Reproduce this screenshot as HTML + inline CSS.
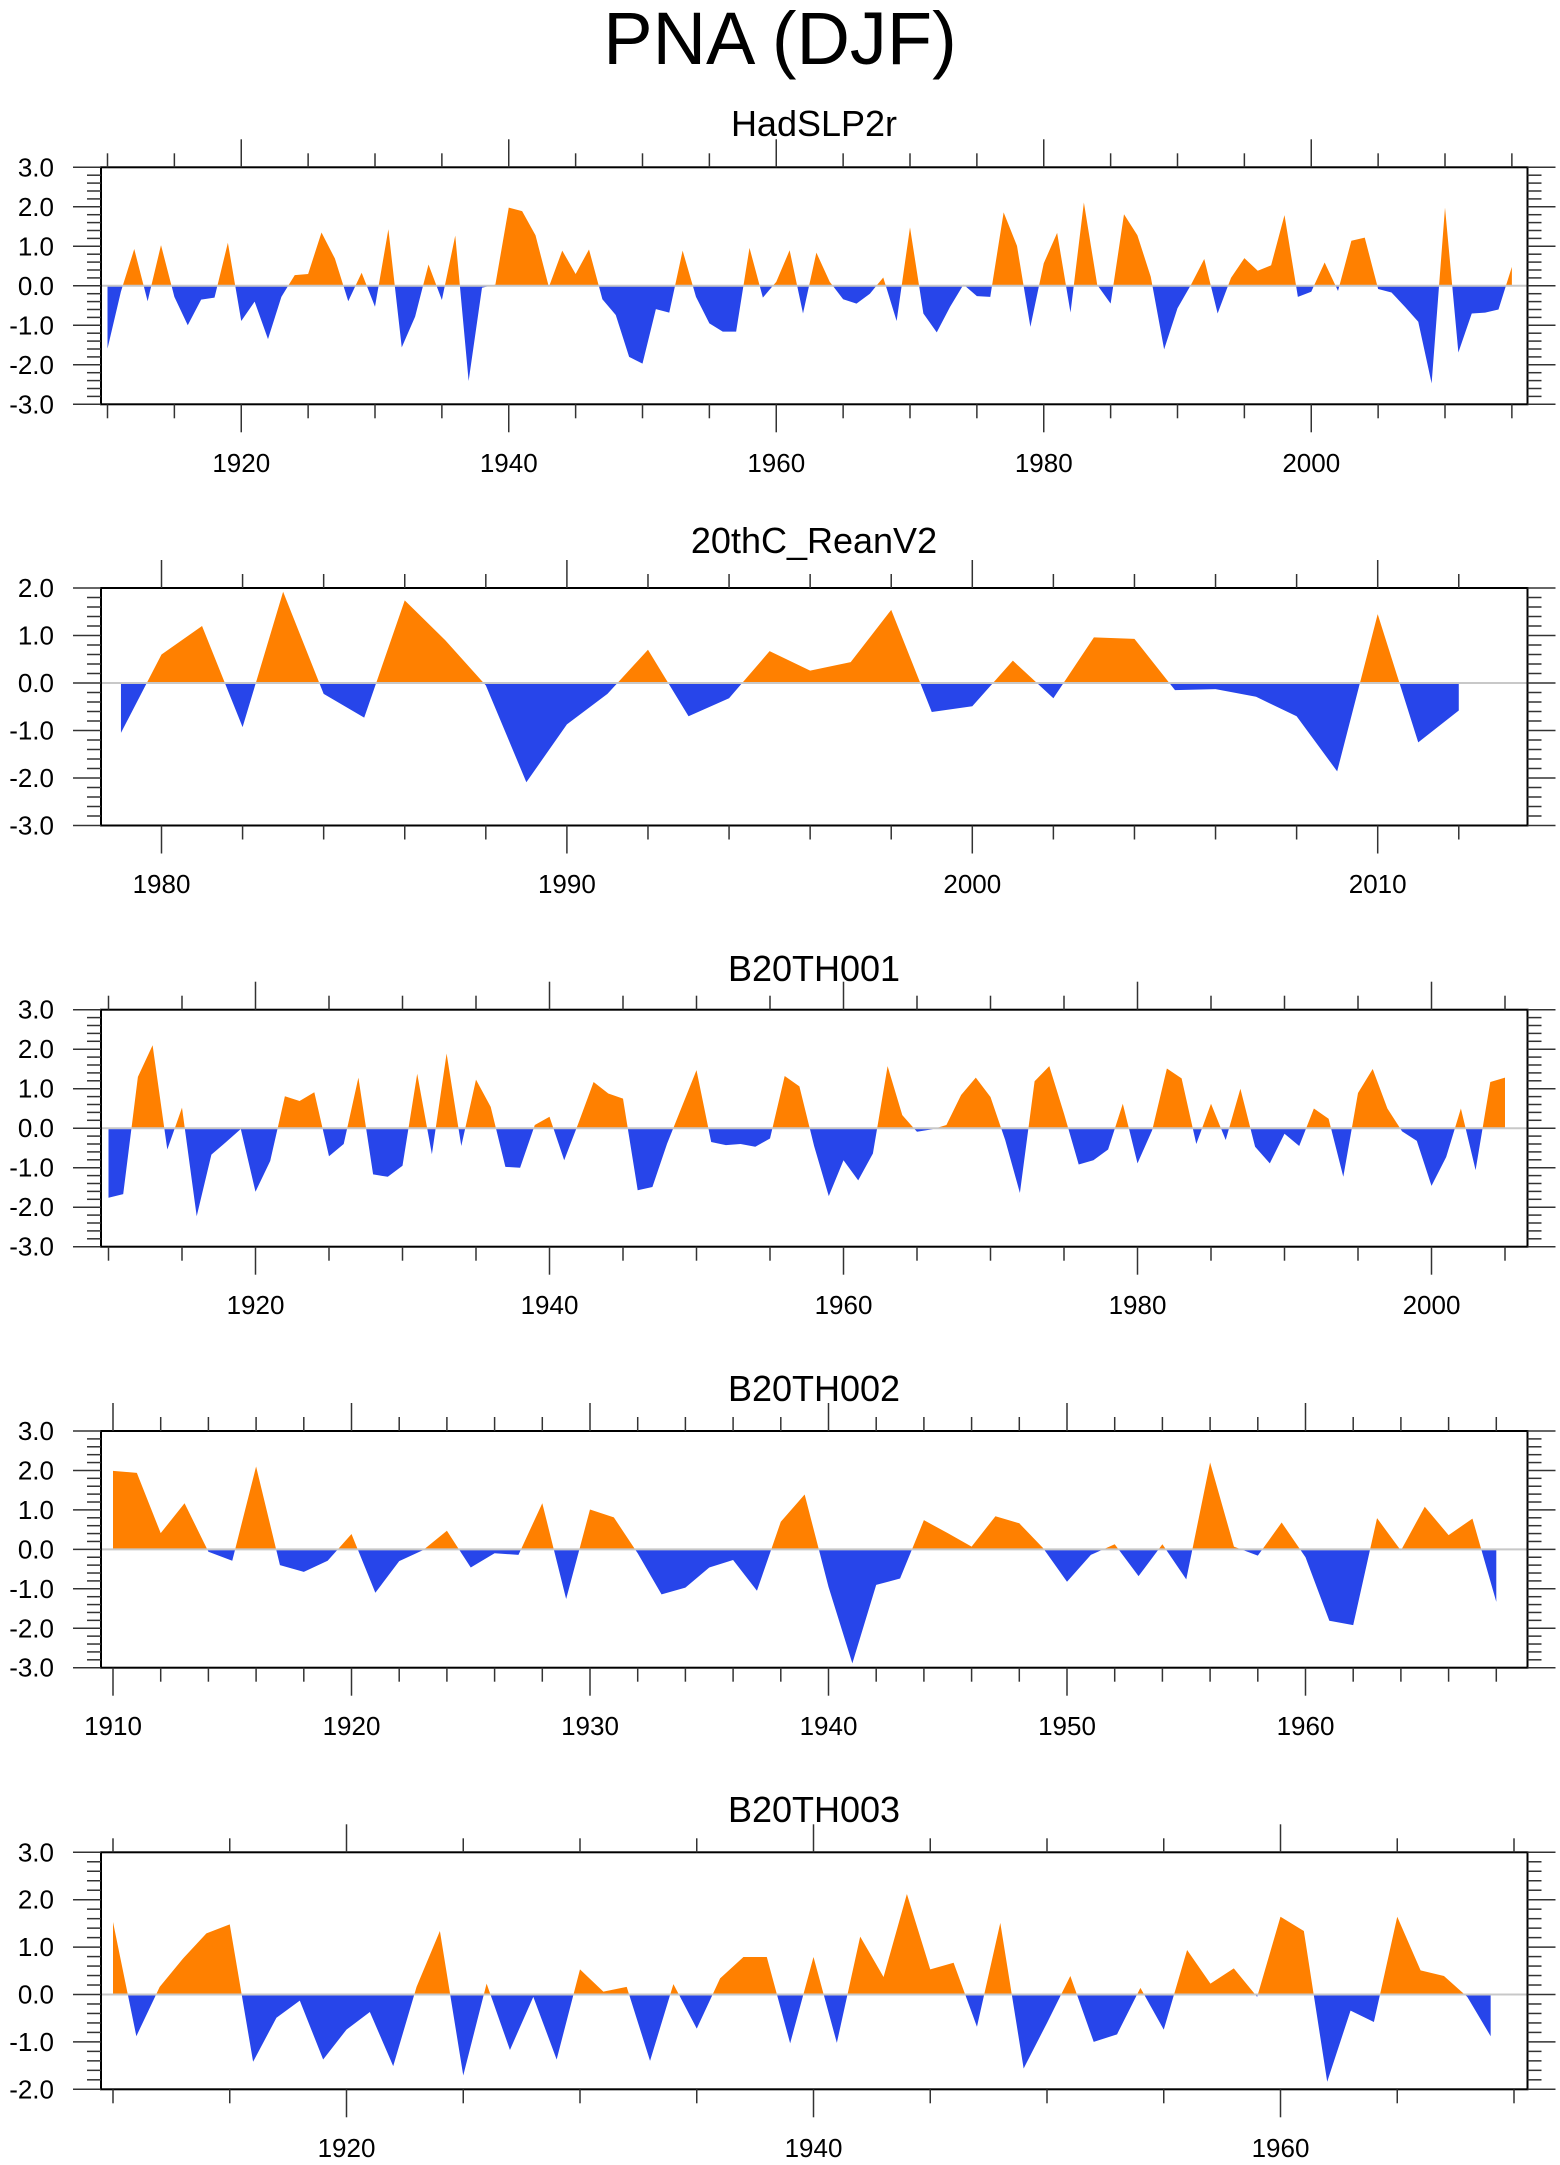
<!DOCTYPE html>
<html><head><meta charset="utf-8"><style>
html,body{margin:0;padding:0;background:#fff}
svg{display:block}
text{font-family:"Liberation Sans",Arial,sans-serif;fill:#000}
</style></head><body>
<svg id="fig" width="1560" height="2165" viewBox="0 0 1560 2165" xmlns="http://www.w3.org/2000/svg">
<text x="780" y="64" font-size="74" text-anchor="middle">PNA (DJF)</text>
</svg>
<script>
// ---- data ----
const hadStart = 1910;
const hadValues = [-1.59,-0.15,0.93,-0.39,1.03,-0.28,-1.0,-0.35,-0.3,1.09,-0.89,-0.4,-1.35,-0.28,0.27,0.3,1.35,0.69,-0.39,0.33,-0.53,1.43,-1.56,-0.78,0.54,-0.36,1.27,-2.41,-0.05,0.03,1.98,1.89,1.28,-0.03,0.89,0.3,0.92,-0.34,-0.74,-1.8,-1.97,-0.59,-0.68,0.89,-0.28,-0.95,-1.16,-1.16,0.96,-0.3,0.1,0.9,-0.7,0.84,0.1,-0.34,-0.45,-0.2,0.21,-0.89,1.48,-0.7,-1.18,-0.53,0.03,-0.26,-0.28,1.86,1.01,-1.04,0.57,1.34,-0.68,2.11,0.02,-0.45,1.81,1.28,0.23,-1.61,-0.57,0.02,0.68,-0.7,0.2,0.7,0.38,0.52,1.79,-0.28,-0.15,0.59,-0.13,1.14,1.22,-0.08,-0.17,-0.53,-0.91,-2.47,1.98,-1.69,-0.7,-0.68,-0.6,0.48];
const reanStart = 1979;
const reanValues = [-1.05,0.6,1.2,-0.93,1.92,-0.23,-0.73,1.74,0.9,-0.05,-2.09,-0.87,-0.23,0.7,-0.7,-0.32,0.67,0.26,0.44,1.54,-0.61,-0.49,0.47,-0.32,0.96,0.93,-0.15,-0.13,-0.29,-0.7,-1.86,1.45,-1.25,-0.58];
const b001Start = 1910;
const b001Values = [-1.76,-1.67,1.3,2.1,-0.54,0.52,-2.23,-0.67,-0.35,-0.02,-1.61,-0.83,0.81,0.69,0.91,-0.71,-0.4,1.28,-1.17,-1.23,-0.95,1.38,-0.66,1.89,-0.45,1.23,0.54,-0.98,-1.0,0.08,0.29,-0.81,0.16,1.17,0.88,0.75,-1.57,-1.49,-0.39,0.54,1.47,-0.35,-0.43,-0.4,-0.47,-0.26,1.32,1.06,-0.45,-1.72,-0.81,-1.32,-0.64,1.57,0.33,-0.09,-0.03,0.08,0.84,1.28,0.79,-0.3,-1.64,1.19,1.57,0.37,-0.92,-0.81,-0.54,0.62,-0.89,-0.05,1.51,1.26,-0.4,0.62,-0.3,1.0,-0.47,-0.89,-0.14,-0.45,0.5,0.24,-1.23,0.89,1.5,0.5,-0.08,-0.32,-1.46,-0.73,0.5,-1.06,1.17,1.28];
const b002Start = 1910;
const b002Values = [1.99,1.94,0.41,1.17,-0.06,-0.29,2.1,-0.4,-0.57,-0.29,0.39,-1.1,-0.3,-0.02,0.47,-0.46,-0.1,-0.14,1.17,-1.26,1.01,0.81,-0.1,-1.14,-0.97,-0.46,-0.27,-1.05,0.7,1.39,-0.95,-2.89,-0.9,-0.74,0.74,0.41,0.07,0.84,0.66,0.03,-0.82,-0.14,0.13,-0.68,0.13,-0.76,2.2,0.07,-0.16,0.68,-0.2,-1.81,-1.92,0.79,-0.03,1.08,0.36,0.78,-1.33];
const b003Start = 1910;
const b003Values = [1.53,-0.88,0.16,0.76,1.29,1.48,-1.42,-0.49,-0.13,-1.37,-0.74,-0.37,-1.51,0.16,1.34,-1.71,0.23,-1.17,-0.05,-1.37,0.53,0.06,0.16,-1.4,0.22,-0.72,0.34,0.79,0.79,-1.03,0.79,-1.02,1.22,0.37,2.12,0.53,0.67,-0.68,1.51,-1.56,-0.6,0.39,-1.0,-0.84,0.14,-0.74,0.94,0.23,0.55,-0.05,1.64,1.34,-1.84,-0.34,-0.58,1.64,0.51,0.39,-0.05,-0.88];
const hadXLabels = [1920,1940,1960,1980,2000];
const reanXLabels = [1980,1990,2000,2010];
const b001XLabels = [1920,1940,1960,1980,2000];
const b002XLabels = [1910,1920,1930,1940,1950,1960];
const b003XLabels = [1920,1940,1960];

// ---- layout ----
const NS = "http://www.w3.org/2000/svg";
const svg = document.getElementById('fig');
const panels = [
  {key:'hadslp2r', title:'HadSLP2r', titleY:136, top:167.3, bottom:404.3, ymin:-3, ymax:3, yr0:1910, x0:107.5, ppy:13.375, start:hadStart, vals:hadValues, labels:hadXLabels, minor:5, major:20, tmin:1910, tmax:2015, labelY:472},
  {key:'20thc-reanv2', title:'20thC_ReanV2', titleY:553, top:588, bottom:825.5, ymin:-3, ymax:2, yr0:1980, x0:161.5, ppy:40.54, start:reanStart, vals:reanValues, labels:reanXLabels, minor:2, major:10, tmin:1980, tmax:2012, labelY:893},
  {key:'b20th001', title:'B20TH001', titleY:981, top:1009.7, bottom:1246.7, ymin:-3, ymax:3, yr0:1910, x0:108.5, ppy:14.7, start:b001Start, vals:b001Values, labels:b001XLabels, minor:5, major:20, tmin:1910, tmax:2005, labelY:1314},
  {key:'b20th002', title:'B20TH002', titleY:1401, top:1431, bottom:1667.7, ymin:-3, ymax:3, yr0:1910, x0:113, ppy:23.85, start:b002Start, vals:b002Values, labels:b002XLabels, minor:2, major:10, tmin:1910, tmax:1968, labelY:1735},
  {key:'b20th003', title:'B20TH003', titleY:1822, top:1852.3, bottom:2089.3, ymin:-2, ymax:3, yr0:1910, x0:113, ppy:23.35, start:b003Start, vals:b003Values, labels:b003XLabels, minor:5, major:20, tmin:1910, tmax:1970, labelY:2157}
];
const L = 101, R = 1527.5;

function mk(tag, attrs, parent){
  const e = document.createElementNS(NS, tag);
  for (const k in attrs) e.setAttribute(k, attrs[k]);
  parent.appendChild(e);
  return e;
}

panels.forEach(p => {
  const g = mk('g', {}, svg);
  
  
  const xs = yr => p.x0 + (yr - p.yr0) * p.ppy;
  const ys = v => p.top + (p.ymax - v) / (p.ymax - p.ymin) * (p.bottom - p.top);
  const y0 = ys(0);

  const t = mk('text', {x:814, y:p.titleY, 'font-size':36, 'text-anchor':'middle'}, g);
  t.textContent = p.title;
  
  

  const pts = [];
  for (let i = 0; i < p.vals.length; i++) {
    const yr = p.start + i, v = p.vals[i];
    if (i > 0) {
      const pv = p.vals[i-1];
      if ((pv > 0 && v < 0) || (pv < 0 && v > 0)) {
        const f = pv / (pv - v);
        pts.push([yr - 1 + f, 0]);
      }
    }
    pts.push([yr, v]);
  }
  const first = pts[0][0], last = pts[pts.length-1][0];
  function area(sign){
    let d = 'M' + xs(first) + ',' + y0;
    pts.forEach(q => {
      const v = sign > 0 ? Math.max(q[1], 0) : Math.min(q[1], 0);
      d += 'L' + xs(q[0]).toFixed(2) + ',' + ys(v).toFixed(2);
    });
    d += 'L' + xs(last) + ',' + y0 + 'Z';
    return d;
  }
  const pos = mk('path', {d:area(1), fill:'#ff8000'}, g);
  
  
  const neg = mk('path', {d:area(-1), fill:'#2745ea'}, g);
  
  

  const zl = mk('line', {x1:L, x2:R, y1:y0, y2:y0, stroke:'#c8c8c8', 'stroke-width':2}, g);
  
  

  const fr = mk('rect', {x:L, y:p.top, width:R-L, height:p.bottom-p.top, fill:'none', stroke:'#000', 'stroke-width':2}, g);
  
  

  for (let yr = Math.ceil(p.tmin / p.minor) * p.minor; yr <= p.tmax + 0.01; yr += p.minor) {
    const x = xs(yr);
    if (x < L - 1 || x > R + 1) continue;
    const isMaj = yr % p.major === 0;
    const len = isMaj ? 28 : 14;
    mk('line', {x1:x, x2:x, y1:p.top, y2:p.top - len, stroke:'#333', 'stroke-width':1.5}, g);
    mk('line', {x1:x, x2:x, y1:p.bottom, y2:p.bottom + len, stroke:'#333', 'stroke-width':1.5}, g);
  }
  p.labels.forEach(yr => {
    const tx = mk('text', {x:xs(yr), y:p.labelY, 'font-size':26, 'text-anchor':'middle'}, g);
    tx.textContent = String(yr);
    
    
  });
  for (let k = Math.round(p.ymin * 5); k <= Math.round(p.ymax * 5); k++) {
    const v = k / 5, y = ys(v);
    const isMaj = k % 5 === 0;
    const len = isMaj ? 28 : 14;
    mk('line', {x1:L, x2:L - len, y1:y, y2:y, stroke:'#333', 'stroke-width':1.5}, g);
    mk('line', {x1:R, x2:R + len, y1:y, y2:y, stroke:'#333', 'stroke-width':1.5}, g);
    if (isMaj) {
      const ty = mk('text', {x:54, y:y + 9, 'font-size':26, 'text-anchor':'end'}, g);
      ty.textContent = v.toFixed(1);
      
      
    }
  }
});
</script>
</body></html>
